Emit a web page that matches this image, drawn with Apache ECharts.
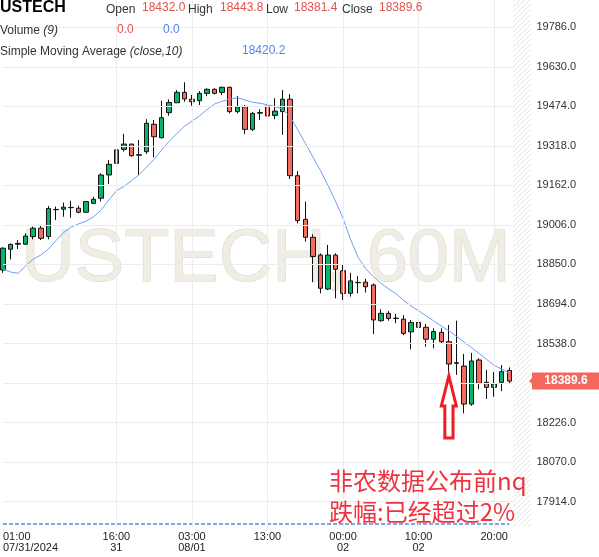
<!DOCTYPE html>
<html><head><meta charset="utf-8">
<script src="https://cdn.jsdelivr.net/npm/echarts@6/dist/echarts.min.js"></script>
<style>html,body{margin:0;padding:0;background:#fff}#c{width:599px;height:557px}</style>
</head><body><div id="c"></div>
<script>
const categories = [
'07/31 01:00','07/31 02:00','07/31 03:00','07/31 04:00','07/31 05:00','07/31 06:00','07/31 07:00','07/31 08:00','07/31 09:00','07/31 10:00','07/31 11:00',
'07/31 12:00','07/31 13:00','07/31 14:00','07/31 15:00','07/31 16:00','07/31 17:00','07/31 18:00','07/31 19:00','07/31 20:00','07/31 21:00','07/31 22:00',
'08/01 00:00','08/01 01:00','08/01 02:00','08/01 03:00','08/01 04:00','08/01 05:00','08/01 06:00','08/01 07:00','08/01 08:00','08/01 09:00','08/01 10:00',
'08/01 11:00','08/01 12:00','08/01 13:00','08/01 14:00','08/01 15:00','08/01 16:00','08/01 17:00','08/01 18:00','08/01 19:00','08/01 20:00','08/01 21:00','08/01 22:00',
'08/02 00:00','08/02 01:00','08/02 02:00','08/02 03:00','08/02 04:00','08/02 05:00','08/02 06:00','08/02 07:00','08/02 08:00','08/02 09:00','08/02 10:00',
'08/02 11:00','08/02 12:00','08/02 13:00','08/02 14:00','08/02 15:00','08/02 16:00','08/02 17:00','08/02 18:00','08/02 19:00','08/02 20:00','08/02 21:00','08/02 22:00'
];
const opens = [18828,18910,18930,18930,18960,18993,18960,19066,19068,19074,19072,19056,19091,19111,19203,19249,19304,19325,19281,19295,19403,19350,
19449,19488,19529,19502,19496,19525,19541,19529,19549,19453,19472,19383,19449,19475,19438,19453,19502,19200,19028,18957,18887,18753,18887,
18825,18736,18778,18780,18769,18628,18657,18637,18634,18584,18621,18602,18555,18582,18545,18462,18449,18299,18473,18385,18365,18385,18432.0];
const closes = [18914,18929,18933,18962,18993,18953,19071,19067,19076,19075,19056,19098,19107,19203,19245,19302,19325,19279,19283,19407,19354,19429,
19489,19529,19503,19492,19525,19541,19525,19549,19453,19472,19383,19446,19447,19436,19455,19502,19200,19023,18957,18881,18756,18887,18831,
18736,18785,18779,18762,18631,18657,18637,18638,18578,18621,18602,18555,18585,18545,18457,18460,18299,18469,18381,18365,18378,18427,18389.6];
const lows = [18817,18870,18911,18927,18949,18946,18949,19025,19038,19034,19052,19056,19088,19098,19167,19229,19295,19275,19203,19286,19273,19347,
19437,19488,19492,19476,19479,19514,19521,19518,19446,19446,19364,19376,19420,19431,19423,19361,19187,19012,18940,18780,18736,18749,18716,
18710,18723,18736,18739,18575,18624,18628,18618,18571,18515,18565,18525,18519,18539,18410,18414,18263,18292,18358,18319,18328,18350,18381.4];
const highs = [18918,18933,18946,18973,18999,19002,19081,19078,19094,19101,19082,19100,19117,19210,19262,19344,19365,19325,19341,19423,19420,19496,
19501,19538,19569,19519,19534,19545,19545,19551,19551,19515,19479,19452,19462,19488,19506,19538,19522,19219,19098,18969,18894,18927,18894,
18851,18817,18804,18793,18775,18673,18666,18655,18650,18631,18628,18615,18598,18598,18611,18628,18497,18501,18480,18434,18425,18453,18443.8];
const ma10 = [18832,18820,18815,18844,18871,18887,18910,18944,18975,18997,
19010,19021,19038,19065,19104,19140,19158,19180,19204,19234,
19265,19302,19336,19366,19395,19416,19436,19461,19483,19494,
19502,19508,19499,19490,19486,19480,19472,19463,19432,19382,
19328,19275,19221,19162,19100,19032,18948,18877,18833,18802,
18776,18754,18735,18708,18686,18667,18647,18627,18607,18588,
18566,18544,18522,18499,18475,18452,18437,18420.2];
const volume = [0,0,0,0,0,0,0,0,0,0,0,0,0,0,0,0,0,0,0,0,0,0,0,0,0,0,0,0,0,0,0,0,0,0,
0,0,0,0,0,0,0,0,0,0,0,0,0,0,0,0,0,0,0,0,0,0,0,0,0,0,0,0,0,0,0,0,0,0];
const yTickValues = [17914,18070,18226,18538,18694,18850,19006,19162,19318,19474,19630,19786];
const yGridValues = [17914,18070,18226,18382,18538,18694,18850,19006,19162,19318,19474,19630,19786];
const xTickIndex = [0,15,25,35,45,55,65];
const xTickText = ['01:00\n07/31/2024','16:00\n31','03:00\n08/01','13:00','00:00\n02','10:00\n02','20:00'];
const header = {symbol:'USTECH', open:'18432.0', high:'18443.8', low:'18381.4', close:'18389.6', vol1:'0.0', vol2:'0.0', sma:'18420.2'};
const arrowCandle = 59;

const chart = echarts.init(document.getElementById('c'));
const candleData = opens.map((o,i)=>[o, closes[i], lows[i], highs[i]]);
const xData = categories.concat(['', ' ']);

const pc = document.createElement('canvas'); pc.width = 5; pc.height = 5;
const g = pc.getContext('2d');
g.fillStyle = '#fff'; g.fillRect(0,0,5,5);
g.strokeStyle = '#e4e4e4'; g.lineWidth = 1;
g.beginPath(); g.moveTo(0,5); g.lineTo(5,0); g.moveTo(-1,1); g.lineTo(1,-1); g.moveTo(4,6); g.lineTo(6,4); g.stroke();

const F = 'Arial, "Liberation Sans", sans-serif';
function txt(text, x, y, opts){
  return {type:'text', z:100, style:Object.assign({text:text, x:x, y:y, font:'12px '+F, fill:'#333', verticalAlign:'middle', align:'left'}, opts||{})};
}
const red = '#e0544c', blue = '#4a88ee';

chart.setOption({
  animation:false,
  grid:{left:2.3, right:74.6, top:0, bottom:30},
  xAxis:[{type:'category', data:xData, boundaryGap:false,
    axisLine:{show:false}, axisTick:{show:false}, splitLine:{show:false},
    axisLabel:{interval:(i)=>xTickIndex.indexOf(i)>=0,
      formatter:(v,i)=>{const k=xTickIndex.indexOf(i); return k>=0?xTickText[k]:'';},
      fontSize:11, color:'#222', lineHeight:11, margin:4, alignMinLabel:'left', fontFamily:F}}],
  yAxis:[{type:'value', position:'right', min:17814, max:19893.4,
    axisLine:{show:false}, axisTick:{show:false}, splitLine:{show:false},
    axisLabel:{customValues:yTickValues, formatter:(v)=>v.toFixed(1), fontSize:11, color:'#333', margin:12, fontFamily:F}},
    {type:'value', show:false, min:-1, max:174.67}],
  series:[
    {type:'line', data:[], z:1, silent:true,
      markLine:{silent:true, symbol:['none','none'], label:{show:false}, animation:false,
        lineStyle:{color:'#ececec', width:1, type:'solid'},
        emphasis:{disabled:true},
        data:yGridValues.map(v=>({yAxis:v})).concat(xTickIndex.slice(1).map(i=>({xAxis:categories[i]})))}},
    {type:'line', yAxisIndex:1, data:volume, symbol:'none', z:2, silent:true,
      lineStyle:{color:'#7ea6e6', width:2, type:[4,2]}},
    {type:'candlestick', data:candleData, barWidth:5, clip:false, z:3,
      itemStyle:{color:'#08b46a', color0:'#f46b5f', borderColor:'#111', borderColor0:'#111', borderWidth:1}},
    {type:'line', data:ma10, symbol:'none', z:4, silent:true, lineStyle:{color:'#6a9ff5', width:1}}
  ]
});

const last = closes[closes.length-1];
const py = chart.convertToPixel({yAxisIndex:0}, last);
const tip = chart.convertToPixel({xAxisIndex:0, yAxisIndex:0}, [categories[arrowCandle], lows[arrowCandle]]);
const tx = tip[0], ty = tip[1];

chart.setOption({graphic:[
  {type:'text', z:0, silent:true, style:{text:'USTECH, 60M', x:266, y:261, font:'74px '+F, fill:'#f0ede4', stroke:'#dcd5c2', lineWidth:1, align:'center', verticalAlign:'middle'}},
  {type:'rect', z:50, silent:true, shape:{x:513, y:0, width:18, height:527}, style:{fill:{image:pc, repeat:'repeat'}}},
  txt(header.symbol, 0, 7.5, {font:'bold 16px '+F, fill:'#000'}),
  txt('Open', 106, 9.5),
  txt(header.open, 142, 8, {fill:red}),
  txt('High', 188, 9.5),
  txt(header.high, 220, 8, {fill:red}),
  txt('Low', 266, 9.5),
  txt(header.low, 294, 8, {fill:red}),
  txt('Close', 342, 9.5),
  txt(header.close, 379, 8, {fill:red}),
  {type:'text', z:100, style:{x:0, y:30.5, verticalAlign:'middle', text:'{a|Volume }{b|(9)}', rich:{a:{font:'12px '+F, fill:'#333'}, b:{font:'italic 12px '+F, fill:'#333'}}}},
  txt(header.vol1, 117, 30, {fill:red}),
  txt(header.vol2, 163, 30, {fill:blue}),
  {type:'text', z:100, style:{x:0, y:51.5, verticalAlign:'middle', text:'{a|Simple Moving Average }{b|(close,10)}', rich:{a:{font:'12px '+F, fill:'#333'}, b:{font:'italic 12px '+F, fill:'#333'}}}},
  txt(header.sma, 242, 51, {fill:blue}),
  {type:'polygon', z:60, silent:true, shape:{points:[[tx,ty],[tx+7.5,ty+30],[tx+4.2,ty+30],[tx+4.2,ty+62],[tx-4,ty+62],[tx-4,ty+30],[tx-7.5,ty+30]]},
    style:{fill:'none', stroke:'#ee1c25', lineWidth:3}},
  {type:'polygon', z:60, silent:true, shape:{points:[[529,py],[533,py-4],[533,py+4]]}, style:{fill:'#f4675d'}},
  {type:'rect', z:60, silent:true, shape:{x:532, y:py-8.5, width:67, height:17}, style:{fill:'#f4675d'}},
  {type:'text', z:61, silent:true, style:{text:last.toFixed(1), x:566, y:py, align:'center', verticalAlign:'middle', font:'bold 12px '+F, fill:'#fff'}},
  {type:'text', z:70, silent:true, style:{text:'非农数据公布前nq', x:329, y:481, verticalAlign:'middle', font:'24px "Noto Sans CJK SC", sans-serif', fill:'#ee3340'}},
  {type:'text', z:70, silent:true, style:{text:'跌幅:已经超过2%', x:329, y:512, verticalAlign:'middle', font:'24px "Noto Sans CJK SC", sans-serif', fill:'#ee3340'}}
]});
</script></body></html>
